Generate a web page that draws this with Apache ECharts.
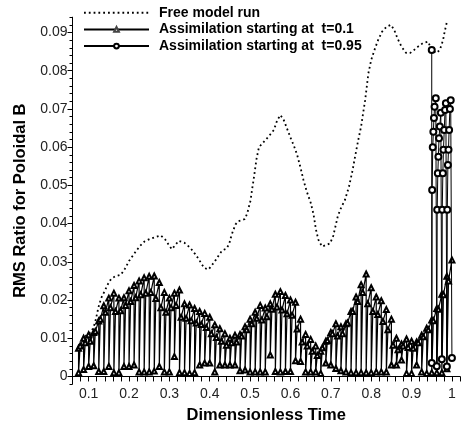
<!DOCTYPE html>
<html>
<head>
<meta charset="utf-8">
<script src="https://cdn.jsdelivr.net/npm/echarts@6/dist/echarts.min.js"></script>
<style>
html, body { margin: 0; padding: 0; background: #fff; }
#chart { width: 463px; height: 430px; }
</style>
</head>
<body>
<div id="chart"></div>
<script>
// free model run (time, rms ratio)
var freeT = [0.075, 0.085, 0.095, 0.105, 0.112, 0.118, 0.124, 0.131, 0.139, 0.148,
	0.156, 0.166, 0.180, 0.190, 0.200, 0.212, 0.226, 0.238, 0.252, 0.267,
	0.279, 0.290, 0.298, 0.306, 0.314, 0.323, 0.337, 0.347, 0.356, 0.364,
	0.372, 0.379, 0.386, 0.397, 0.406, 0.415, 0.423, 0.431, 0.441, 0.448,
	0.452, 0.457, 0.464, 0.470, 0.480, 0.487, 0.493, 0.497, 0.501, 0.505,
	0.508, 0.511, 0.516, 0.522, 0.534, 0.546, 0.559, 0.567, 0.575, 0.583,
	0.591, 0.600, 0.608, 0.616, 0.624, 0.632, 0.640, 0.650, 0.657, 0.663,
	0.669, 0.678, 0.686, 0.698, 0.706, 0.712, 0.717, 0.723, 0.735, 0.745,
	0.754, 0.760, 0.768, 0.775, 0.780, 0.785, 0.789, 0.793, 0.800, 0.808,
	0.817, 0.827, 0.838, 0.849, 0.857, 0.865, 0.875, 0.886, 0.896, 0.906,
	0.916, 0.928, 0.941, 0.949, 0.961, 0.970, 0.978, 0.982, 0.987];
var freeV = [0.0072, 0.0098, 0.0108, 0.0115, 0.0128, 0.0150, 0.0180, 0.0205, 0.0222, 0.0242,
	0.0256, 0.0262, 0.0266, 0.0282, 0.0302, 0.0320, 0.0340, 0.0353, 0.0360, 0.0365,
	0.0369, 0.0358, 0.0345, 0.0333, 0.0343, 0.0355, 0.0350, 0.0341, 0.0331, 0.0320,
	0.0308, 0.0296, 0.0284, 0.0280, 0.0292, 0.0305, 0.0318, 0.0330, 0.0334, 0.0346,
	0.0362, 0.0379, 0.0398, 0.0406, 0.0409, 0.0412, 0.0427, 0.0444, 0.0460, 0.0490,
	0.0510, 0.0532, 0.0570, 0.0600, 0.0614, 0.0628, 0.0645, 0.0670, 0.0684, 0.0672,
	0.0650, 0.0625, 0.0605, 0.0582, 0.0550, 0.0515, 0.0485, 0.0455, 0.0425, 0.0385,
	0.0358, 0.0340, 0.0343, 0.0348, 0.0368, 0.0395, 0.0418, 0.0436, 0.0462, 0.0497,
	0.0540, 0.0575, 0.0619, 0.0654, 0.0689, 0.0723, 0.0758, 0.0793, 0.0828, 0.0854,
	0.0880, 0.0902, 0.0915, 0.0920, 0.0907, 0.0885, 0.0863, 0.0847, 0.0846, 0.0854,
	0.0863, 0.0872, 0.0876, 0.0856, 0.0846, 0.0854, 0.0880, 0.0902, 0.0925];

// assimilation from t=0.1: one cycle every assimStep, value right after analysis (low),
// a little later (mid) and just before the next analysis (high)
var assimStart = 0.075;
var assimStep = 0.0125;
var midDelay = 0.004;
var firstA = 0.0074;
var lowA = [0.0010, 0.0018, 0.0026, 0.0028, 0.0013, 0.0013, 0.0026, 0.0010, 0.0010, 0.0026,
	0.0026, 0.0030, 0.0012, 0.0012, 0.0012, 0.0014, 0.0026, 0.0012, 0.0012, 0.0052,
	0.0010, 0.0010, 0.0008, 0.0010, 0.0030, 0.0035, 0.0035, 0.0012, 0.0030, 0.0030,
	0.0030, 0.0030, 0.0015, 0.0017, 0.0012, 0.0012, 0.0012, 0.0012, 0.0056, 0.0013,
	0.0012, 0.0013, 0.0013, 0.0041, 0.0039, 0.0012, 0.0012, 0.0012, 0.0008, 0.0035,
	0.0030, 0.0021, 0.0015, 0.0012, 0.0010, 0.0010, 0.0010, 0.0010, 0.0010, 0.0012,
	0.0012, 0.0012, 0.0030, 0.0030, 0.0043, 0.0008, 0.0008, 0.0030, 0.0012, 0.0008,
	0.0010, 0.0010, 0.0010, 0.0020];
var midA = [0.0080, 0.0088, 0.0092, 0.0118, 0.0150, 0.0168, 0.0180, 0.0170, 0.0172, 0.0186,
	0.0196, 0.0206, 0.0214, 0.0218, 0.0220, 0.0204, 0.0180, 0.0168, 0.0180, 0.0186,
	0.0155, 0.0152, 0.0146, 0.0140, 0.0136, 0.0128, 0.0112, 0.0102, 0.0092, 0.0082,
	0.0088, 0.0090, 0.0106, 0.0122, 0.0138, 0.0152, 0.0148, 0.0156, 0.0176, 0.0182,
	0.0174, 0.0164, 0.0160, 0.0124, 0.0090, 0.0080, 0.0066, 0.0055, 0.0075, 0.0094,
	0.0112, 0.0106, 0.0112, 0.0140, 0.0170, 0.0196, 0.0220, 0.0190, 0.0170, 0.0162,
	0.0144, 0.0122, 0.0082, 0.0070, 0.0080, 0.0076, 0.0074, 0.0088, 0.0104, 0.0122,
	0.0146, 0.0176, 0.0214, 0.0250];
var highA = [0.0100, 0.0109, 0.0115, 0.0145, 0.0185, 0.0205, 0.0218, 0.0205, 0.0206, 0.0224,
	0.0238, 0.0250, 0.0258, 0.0262, 0.0263, 0.0246, 0.0220, 0.0205, 0.0218, 0.0226,
	0.0190, 0.0187, 0.0178, 0.0170, 0.0165, 0.0155, 0.0135, 0.0125, 0.0112, 0.0100,
	0.0108, 0.0110, 0.0130, 0.0150, 0.0168, 0.0186, 0.0179, 0.0190, 0.0215, 0.0222,
	0.0212, 0.0200, 0.0194, 0.0150, 0.0110, 0.0097, 0.0080, 0.0066, 0.0092, 0.0115,
	0.0138, 0.0130, 0.0138, 0.0170, 0.0208, 0.0240, 0.0268, 0.0232, 0.0208, 0.0198,
	0.0175, 0.0150, 0.0100, 0.0085, 0.0098, 0.0092, 0.0090, 0.0108, 0.0126, 0.0148,
	0.0178, 0.0215, 0.0262, 0.0305];

// assimilation from t=0.95
var timeB = [0.950, 0.950, 0.9510, 0.9525, 0.9540, 0.9555, 0.9570, 0.9600,
	0.9625, 0.9635, 0.9650, 0.9665, 0.9680, 0.9700, 0.9725,
	0.9750, 0.9760, 0.9775, 0.9790, 0.9810, 0.9830, 0.9850,
	0.9875, 0.9885, 0.9900, 0.9915, 0.9930, 0.9950, 0.9970, 1.000];
var valueB = [0.0854, 0.0035, 0.0488, 0.0600, 0.0640, 0.0676, 0.0706, 0.0728,
	0.0027, 0.0436, 0.0532, 0.0575, 0.0623, 0.0654, 0.0690,
	0.0045, 0.0436, 0.0532, 0.0593, 0.0645, 0.0697, 0.0715,
	0.0026, 0.0436, 0.0553, 0.0593, 0.0645, 0.0700, 0.0723, 0.0048];

var xTickLabels = ['0.1', '0.2', '0.3', '0.4', '0.5', '0.6', '0.7', '0.8', '0.9', '1'];
var yTickLabels = ['0', '0.01', '0.02', '0.03', '0.04', '0.05', '0.06', '0.07', '0.08', '0.09'];
var seriesNames = ['Free model run', 'Assimilation starting at  t=0.1', 'Assimilation starting at  t=0.95'];

var freeData = freeT.map(function (t, i) { return [t, freeV[i]]; });
var dataA = [[assimStart, firstA]];
for (var k = 0; k < lowA.length; k++) {
	var t0 = assimStart + k * assimStep;
	dataA.push([t0, lowA[k]]);
	dataA.push([t0 + midDelay, midA[k]]);
	dataA.push([t0 + assimStep, highA[k]]);
}
var dataB = timeB.map(function (t, i) { return [t, valueB[i]]; });

var font = 'Liberation Sans, Arial, sans-serif';
// pixel layout: 0.01 of RMS is 38.22px, 0.1 of time is 40.56px
var gLeft = 72.5, gWidth = 389.7;
var yPx = 3822;
var gTop = 17.2;
var yMin = -0.002, yMax = 0.094;

var chart = echarts.init(document.getElementById('chart'));
chart.setOption({
	animation: false,
	backgroundColor: '#fff',
	legend: {
		orient: 'vertical',
		left: 83,
		top: 5.7,
		padding: 0,
		itemWidth: 65,
		itemHeight: 6,
		itemGap: 2.7,
		selectedMode: false,
		data: [
			{ name: seriesNames[0], itemStyle: { opacity: 0 } },
			{ name: seriesNames[1], itemStyle: { color: '#444', borderColor: '#000', borderWidth: 1 } },
			{ name: seriesNames[2], itemStyle: { color: '#000', borderWidth: 1 } }
		],
		textStyle: { fontFamily: font, fontWeight: 'bold', fontSize: 14, color: '#000', lineHeight: 14, padding: [0, 0, 0, 5] }
	},
	grid: [
		{ left: gLeft, width: gWidth, top: gTop, height: (yMax - yMin) * yPx },
		{ left: gLeft, width: gWidth, top: gTop + (yMax - 0.09) * yPx, height: 0.09 * yPx }
	],
	xAxis: [{
		type: 'value', gridIndex: 0, min: 0.06, max: 1.02, interval: 0.02,
		name: 'Dimensionless Time', nameLocation: 'middle', nameGap: 23,
		nameTextStyle: { fontFamily: font, fontWeight: 'bold', fontSize: 16.5, color: '#000' },
		axisLine: { lineStyle: { color: '#000', width: 1 } },
		axisTick: { length: 5, lineStyle: { color: '#000' } },
		splitLine: { show: false },
		axisLabel: {
			margin: 3, fontFamily: font, fontSize: 14, color: '#222',
			formatter: function (v) {
				var r = Math.round(v * 100);
				if (r % 10 !== 0) return '';
				return xTickLabels[r / 10 - 1] || '';
			}
		}
	}, {
		type: 'value', gridIndex: 1, min: 0.06, max: 1.02, show: false
	}],
	yAxis: [{
		type: 'value', gridIndex: 0, min: yMin, max: yMax, interval: 0.002,
		name: 'RMS Ratio for Poloidal B', nameLocation: 'middle', nameGap: 44,
		nameTextStyle: { fontFamily: font, fontWeight: 'bold', fontSize: 16.5, color: '#000' },
		axisLine: { show: true, lineStyle: { color: '#000', width: 1 } },
		axisTick: { length: 3, lineStyle: { color: '#000' } },
		axisLabel: { show: false },
		splitLine: { show: false }
	}, {
		type: 'value', gridIndex: 1, min: 0, max: 0.09, interval: 0.01,
		axisLine: { show: false },
		axisTick: { length: 5, lineStyle: { color: '#000' } },
		splitLine: { show: false },
		axisLabel: {
			margin: 5, fontFamily: font, fontSize: 14, color: '#222',
			formatter: function (v) { return yTickLabels[Math.round(v * 100)]; }
		}
	}],
	series: [{
		name: seriesNames[0],
		type: 'line',
		data: freeData,
		symbol: 'none',
		z: 2,
		lineStyle: { color: '#000', width: 1.8, type: [1.8, 3], cap: 'butt' },
		itemStyle: { color: '#000' }
	}, {
		name: seriesNames[1],
		type: 'line',
		data: dataA,
		symbol: 'emptyTriangle',
		symbolSize: 5,
		z: 3,
		lineStyle: { color: '#000', width: 1.2 },
		itemStyle: { color: '#000', borderWidth: 1 }
	}, {
		name: seriesNames[2],
		type: 'line',
		data: dataB,
		symbol: 'emptyCircle',
		symbolSize: 6,
		z: 4,
		lineStyle: { color: '#000', width: 1 },
		itemStyle: { color: '#000', borderWidth: 1 }
	}]
});
</script>
</body>
</html>
